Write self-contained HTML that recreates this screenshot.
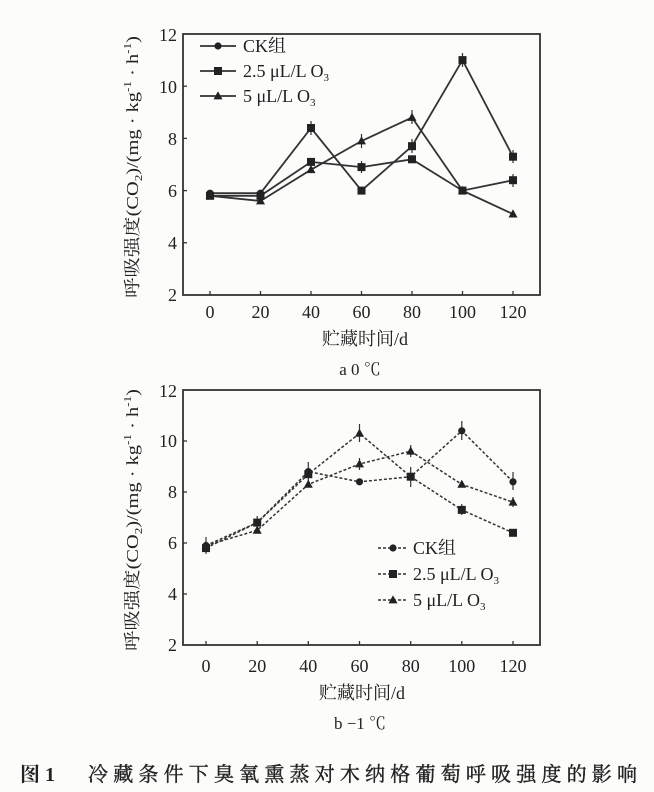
<!DOCTYPE html>
<html><head><meta charset="utf-8"><style>
body{margin:0;background:#fcfcfb;}
svg{display:block;font-family:"Liberation Serif","Noto Serif CJK SC",serif;}
</style></head><body>
<svg width="654" height="792" viewBox="0 0 654 792" xmlns="http://www.w3.org/2000/svg">
<rect width="654" height="792" fill="#fcfcfb"/>
<defs>
<g id="c"><circle r="3.6" fill="#222"/></g>
<g id="s"><rect x="-4" y="-4" width="8" height="8" fill="#222"/></g>
<g id="t"><polygon points="0,-4.8 4.5,3.4 -4.5,3.4" fill="#222"/></g>
</defs>
<!-- TOP CHART -->
<rect x="183" y="34" width="357" height="261" stroke="#333" fill="none" stroke-width="1.8"/>
<g stroke="#333" stroke-width="1.3">
<line x1="183" y1="242.8" x2="187" y2="242.8"/><line x1="183" y1="190.6" x2="187" y2="190.6"/><line x1="183" y1="138.4" x2="187" y2="138.4"/><line x1="183" y1="86.2" x2="187" y2="86.2"/>
<line x1="210" y1="295" x2="210" y2="291"/><line x1="260.5" y1="295" x2="260.5" y2="291"/><line x1="311" y1="295" x2="311" y2="291"/><line x1="361.5" y1="295" x2="361.5" y2="291"/><line x1="412" y1="295" x2="412" y2="291"/><line x1="462.5" y1="295" x2="462.5" y2="291"/><line x1="513" y1="295" x2="513" y2="291"/>
</g>
<g font-size="18" fill="#222" text-anchor="end">
<text x="177" y="301">2</text><text x="177" y="249">4</text><text x="177" y="197">6</text><text x="177" y="145">8</text><text x="177" y="93">10</text><text x="177" y="41">12</text>
</g>
<g font-size="18" fill="#222" text-anchor="middle">
<text x="210" y="318">0</text><text x="260.5" y="318">20</text><text x="311" y="318">40</text><text x="361.5" y="318">60</text><text x="412" y="318">80</text><text x="462.5" y="318">100</text><text x="513" y="318">120</text>
<text x="365" y="345" font-size="18">贮藏时间/d</text>
<text x="360" y="375" font-size="17">a 0 ℃</text>
</g>
<text transform="translate(138,167) rotate(-90)" text-anchor="middle" font-size="17" fill="#222" textLength="262" lengthAdjust="spacingAndGlyphs">呼吸强度(CO<tspan font-size="11" dy="4">2</tspan><tspan dy="-4">)/(mg · kg</tspan><tspan font-size="11" dy="-7">-1</tspan><tspan dy="7"> · h</tspan><tspan font-size="11" dy="-7">-1</tspan><tspan dy="7">)</tspan></text>
<g stroke="#333" stroke-width="1.8" fill="none">
<polyline points="210,193.2 260.5,193.2 311,128 361.5,190.6 412,146.2 462.5,60.1 513,156.7"/>
<polyline points="210,195.8 260.5,195.8 311,161.9 361.5,167.1 412,159.3 462.5,190.6 513,180.2"/>
<polyline points="210,195.8 260.5,201 311,169.7 361.5,141 412,117.5 462.5,190.6 513,214.1"/>
</g>
<g stroke="#333" stroke-width="1.2">
<line x1="311" y1="121" x2="311" y2="135"/><line x1="462.5" y1="53" x2="462.5" y2="67"/><line x1="513" y1="150" x2="513" y2="163"/><line x1="412" y1="110" x2="412" y2="124"/><line x1="412" y1="139" x2="412" y2="153"/><line x1="361.5" y1="134" x2="361.5" y2="148"/><line x1="361.5" y1="161" x2="361.5" y2="173"/><line x1="513" y1="174" x2="513" y2="187"/>
</g>
<g>
<use href="#c" x="210" y="193.2"/><use href="#c" x="260.5" y="193.2"/><use href="#s" x="311" y="128"/><use href="#s" x="361.5" y="190.6"/><use href="#s" x="412" y="146.2"/><use href="#s" x="462.5" y="60.1"/><use href="#s" x="513" y="156.7"/>
<use href="#s" x="210" y="195.8"/><use href="#s" x="260.5" y="195.8"/><use href="#s" x="311" y="161.9"/><use href="#s" x="361.5" y="167.1"/><use href="#s" x="412" y="159.3"/><use href="#s" x="462.5" y="190.6"/><use href="#s" x="513" y="180.2"/>
<use href="#t" x="210" y="195.8"/><use href="#t" x="260.5" y="201"/><use href="#t" x="311" y="169.7"/><use href="#t" x="361.5" y="141"/><use href="#t" x="412" y="117.5"/><use href="#t" x="462.5" y="190.6"/><use href="#t" x="513" y="214.1"/>
</g>
<g stroke="#333" stroke-width="1.8">
<line x1="200" y1="46" x2="236" y2="46"/><line x1="200" y1="71" x2="236" y2="71"/><line x1="200" y1="96" x2="236" y2="96"/>
</g>
<use href="#c" x="218" y="46"/><use href="#s" x="218" y="71"/><use href="#t" x="218" y="96"/>
<g font-size="18" fill="#222">
<text x="243" y="52">CK组</text>
<text x="243" y="77">2.5 μL/L O<tspan font-size="11" dy="4">3</tspan></text>
<text x="243" y="102">5 μL/L O<tspan font-size="11" dy="4">3</tspan></text>
</g>

<!-- BOTTOM CHART -->
<rect x="183" y="390" width="357" height="255" stroke="#333" fill="none" stroke-width="1.8"/>
<g stroke="#333" stroke-width="1.3">
<line x1="183" y1="594" x2="187" y2="594"/><line x1="183" y1="543" x2="187" y2="543"/><line x1="183" y1="492" x2="187" y2="492"/><line x1="183" y1="441" x2="187" y2="441"/>
<line x1="206" y1="645" x2="206" y2="641"/><line x1="257.2" y1="645" x2="257.2" y2="641"/><line x1="308.3" y1="645" x2="308.3" y2="641"/><line x1="359.5" y1="645" x2="359.5" y2="641"/><line x1="410.7" y1="645" x2="410.7" y2="641"/><line x1="461.8" y1="645" x2="461.8" y2="641"/><line x1="513" y1="645" x2="513" y2="641"/>
</g>
<g font-size="18" fill="#222" text-anchor="end">
<text x="177" y="651">2</text><text x="177" y="600">4</text><text x="177" y="549">6</text><text x="177" y="498">8</text><text x="177" y="447">10</text><text x="177" y="397">12</text>
</g>
<g font-size="18" fill="#222" text-anchor="middle">
<text x="206" y="672">0</text><text x="257.2" y="672">20</text><text x="308.3" y="672">40</text><text x="359.5" y="672">60</text><text x="410.7" y="672">80</text><text x="461.8" y="672">100</text><text x="513" y="672">120</text>
<text x="362" y="699">贮藏时间/d</text>
<text x="360" y="729" font-size="17">b −1 ℃</text>
</g>
<text transform="translate(138,520) rotate(-90)" text-anchor="middle" font-size="17" fill="#222" textLength="262" lengthAdjust="spacingAndGlyphs">呼吸强度(CO<tspan font-size="11" dy="4">2</tspan><tspan dy="-4">)/(mg · kg</tspan><tspan font-size="11" dy="-7">-1</tspan><tspan dy="7"> · h</tspan><tspan font-size="11" dy="-7">-1</tspan><tspan dy="7">)</tspan></text>
<g stroke="#333" stroke-width="1.5" fill="none" stroke-dasharray="3,2">
<polyline points="206,545.5 257.2,522.6 308.3,471.6 359.5,481.8 410.7,476.7 461.8,430.8 513,481.8"/>
<polyline points="206,548.1 257.2,522.6 308.3,474.2 359.5,433.4 410.7,476.7 461.8,509.9 513,532.8"/>
<polyline points="206,545.5 257.2,530.3 308.3,484.4 359.5,464 410.7,451.2 461.8,484.4 513,502.2"/>
</g>
<g stroke="#333" stroke-width="1.2">
<line x1="206" y1="537" x2="206" y2="554"/><line x1="257.2" y1="516" x2="257.2" y2="530"/><line x1="308.3" y1="462" x2="308.3" y2="482"/><line x1="359.5" y1="424" x2="359.5" y2="442"/><line x1="410.7" y1="467" x2="410.7" y2="487"/><line x1="461.8" y1="421" x2="461.8" y2="440"/><line x1="513" y1="472" x2="513" y2="490"/><line x1="359.5" y1="458" x2="359.5" y2="470"/><line x1="410.7" y1="445" x2="410.7" y2="457"/><line x1="461.8" y1="504" x2="461.8" y2="515"/><line x1="513" y1="497" x2="513" y2="507"/>
</g>
<g>
<use href="#c" x="206" y="545.5"/><use href="#c" x="257.2" y="522.6"/><use href="#c" x="308.3" y="471.6"/><use href="#c" x="359.5" y="481.8"/><use href="#c" x="410.7" y="476.7"/><use href="#c" x="461.8" y="430.8"/><use href="#c" x="513" y="481.8"/>
<use href="#s" x="206" y="548.1"/><use href="#s" x="257.2" y="522.6"/><use href="#s" x="308.3" y="474.2"/><use href="#t" x="359.5" y="433.4"/><use href="#s" x="410.7" y="476.7"/><use href="#s" x="461.8" y="509.9"/><use href="#s" x="513" y="532.8"/>
<use href="#t" x="206" y="545.5"/><use href="#t" x="257.2" y="530.3"/><use href="#t" x="308.3" y="484.4"/><use href="#t" x="359.5" y="464"/><use href="#t" x="410.7" y="451.2"/><use href="#t" x="461.8" y="484.4"/><use href="#t" x="513" y="502.2"/>
</g>
<g stroke="#333" stroke-width="1.5" stroke-dasharray="3,2">
<line x1="378" y1="548" x2="408" y2="548"/><line x1="378" y1="574" x2="408" y2="574"/><line x1="378" y1="600" x2="408" y2="600"/>
</g>
<use href="#c" x="393" y="548"/><use href="#s" x="393" y="574"/><use href="#t" x="393" y="600"/>
<g font-size="18" fill="#222">
<text x="413" y="554">CK组</text>
<text x="413" y="580">2.5 μL/L O<tspan font-size="11" dy="4">3</tspan></text>
<text x="413" y="606">5 μL/L O<tspan font-size="11" dy="4">3</tspan></text>
</g>

<!-- caption -->
<text x="20" y="781" font-size="20" fill="#222" font-weight="bold" font-family="'Liberation Serif','Noto Serif CJK SC',serif">图 1</text>
<text x="88" y="781" font-size="20" fill="#222" textLength="549" lengthAdjust="spacing" font-family="'Noto Serif CJK SC',serif" stroke="#222" stroke-width="0.4">冷藏条件下臭氧熏蒸对木纳格葡萄呼吸强度的影响</text>
</svg>
</body></html>
